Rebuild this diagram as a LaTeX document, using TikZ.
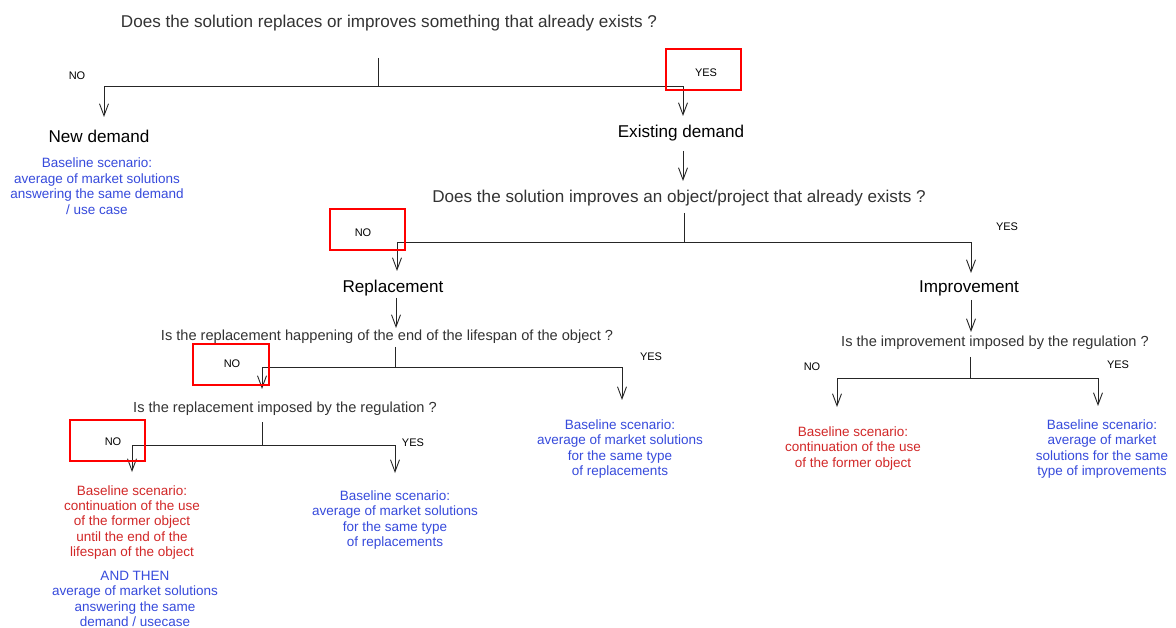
\documentclass[tikz,border=0pt]{standalone}
\usepackage{fontspec}
\setmainfont{Liberation Sans}
\usetikzlibrary{arrows.meta}
\definecolor{qgrey}{RGB}{51,51,51}
\definecolor{bblue}{RGB}{55,75,220}
\definecolor{rred}{RGB}{210,40,40}
\begin{document}
\begin{tikzpicture}[x=1pt,y=-1pt,
  q/.style={text=qgrey, font=\fontsize{14.6}{17}\selectfont, inner sep=0},
  qb/.style={text=qgrey, font=\fontsize{17.1}{20}\selectfont, inner sep=0},
  hd/.style={text=black, font=\fontsize{17.1}{20}\selectfont, inner sep=0},
  yn/.style={text=black, font=\fontsize{11}{13}\selectfont, inner sep=0},
  bl/.style={text=bblue, align=center, font=\fontsize{13.5}{15.6}\selectfont, inner sep=0},
  rd/.style={text=rred, align=center, font=\fontsize{13.5}{15.3}\selectfont, inner sep=0},
  ln/.style={draw=black!85, line width=0.9pt},
  arr/.style={ln, -{Straight Barb[length=12pt,width=9pt]}},
  rbox/.style={draw=red, line width=1.8pt, minimum height=41pt, inner sep=0}]
\useasboundingbox[fill=white] (0,0) rectangle (1176,628);

% ---------- texts ----------
\node[qb] (q1) at (389,23) {Does the solution replaces or improves something that already exists ?};
\node[yn] (no1) at (77,76) {NO};
\node[yn] (yes1) at (706,73) {YES};
\node[hd] (nd) at (99,136) {New demand};
\node[bl] (ndb) at (97,186) {Baseline scenario:\\average of market solutions\\answering the same demand\\/ use case};
\node[hd] (ed) at (681,133) {Existing demand};

\node[qb] (q2) at (679,198) {Does the solution improves an object/project that already exists ?};
\node[yn] (no2) at (363,233) {NO};
\node[yn] (yes2) at (1007,227) {YES};
\node[hd] (rep) at (393,288) {Replacement};
\node[hd] (imp) at (969,288) {Improvement};

\node[q] (q3) at (387,337) {Is the replacement happening of the end of the lifespan of the object ?};
\node[yn] (no3) at (232,364) {NO};
\node[yn] (yes3) at (651,357) {YES};
\node[bl] (q3yb) at (620,449) {Baseline scenario:\\average of market solutions\\for the same type\\ of replacements};

\node[q] (q4) at (285,409) {Is the replacement imposed by the regulation ?};
\node[yn] (no4) at (113,442) {NO};
\node[yn] (yes4) at (413,443) {YES};
\node[rd] (q4nr) at (132,522.5) {Baseline scenario:\\continuation of the use\\of the former object\\until the end of the\\lifespan of the object};
\node[bl] (q4nb) at (135,599) {AND THEN\\average of market solutions\\answering the same\\ demand / usecase};
\node[bl] (q4yb) at (395,520) {Baseline scenario:\\average of market solutions\\for the same type\\ of replacements};

\node[q] (q5) at (995,343) {Is the improvement imposed by the regulation ?};
\node[yn] (no5) at (812,367) {NO};
\node[yn] (yes5) at (1118,365) {YES};
\node[rd] (q5nr) at (853,448.5) {Baseline scenario:\\continuation of the use\\of the former object};
\node[bl] (q5yb) at (1102,449) {Baseline scenario:\\average of market\\solutions for the same\\type of improvements};

% ---------- connectors ----------
\coordinate (q1t) at (378,58);
\coordinate (q1j) at (378,86.5);
\coordinate (q1l) at (104,117);
\coordinate (q1r) at (683,116);
\draw[ln] (q1t) -- (q1j);
\draw[arr] (q1j) -| (q1l);
\draw[arr] (q1j) -| (q1r);

\coordinate (edA) at (683,151);
\coordinate (edB) at (683,181);
\draw[arr] (edA) -- (edB);

\coordinate (q2t) at (684,213);
\coordinate (q2j) at (684,242.5);
\coordinate (q2l) at (397,271);
\coordinate (q2r) at (971,273);
\draw[ln] (q2t) -- (q2j);
\draw[arr] (q2j) -| (q2l);
\draw[arr] (q2j) -| (q2r);

\coordinate (repA) at (396,298);
\coordinate (repB) at (396,328);
\draw[arr] (repA) -- (repB);
\coordinate (impA) at (971,300);
\coordinate (impB) at (971,332);
\draw[arr] (impA) -- (impB);

\coordinate (q3t) at (395,347);
\coordinate (q3j) at (395,367);
\coordinate (q3l) at (262,389);
\coordinate (q3r) at (622,400);
\draw[ln] (q3t) -- (q3j);
\draw[arr] (q3j) -| (q3l);
\draw[arr] (q3j) -| (q3r);

\coordinate (q4t) at (262,422);
\coordinate (q4j) at (262,445);
\coordinate (q4l) at (132,472);
\coordinate (q4r) at (395,473);
\draw[ln] (q4t) -- (q4j);
\draw[arr] (q4j) -| (q4l);
\draw[arr] (q4j) -| (q4r);

\coordinate (q5t) at (970,357);
\coordinate (q5j) at (970,378);
\coordinate (q5l) at (837,407);
\coordinate (q5r) at (1098,406);
\draw[ln] (q5t) -- (q5j);
\draw[arr] (q5j) -| (q5l);
\draw[arr] (q5j) -| (q5r);

% ---------- red highlight boxes ----------
\node[rbox, minimum width=75pt] (yes1box) at (703.5,69.5) {};
\node[rbox, minimum width=75pt] (no2box) at (367.5,229.5) {};
\node[rbox, minimum width=76pt] (no3box) at (231,364.5) {};
\node[rbox, minimum width=75pt] (no4box) at (107.5,440.5) {};
\end{tikzpicture}
\end{document}
